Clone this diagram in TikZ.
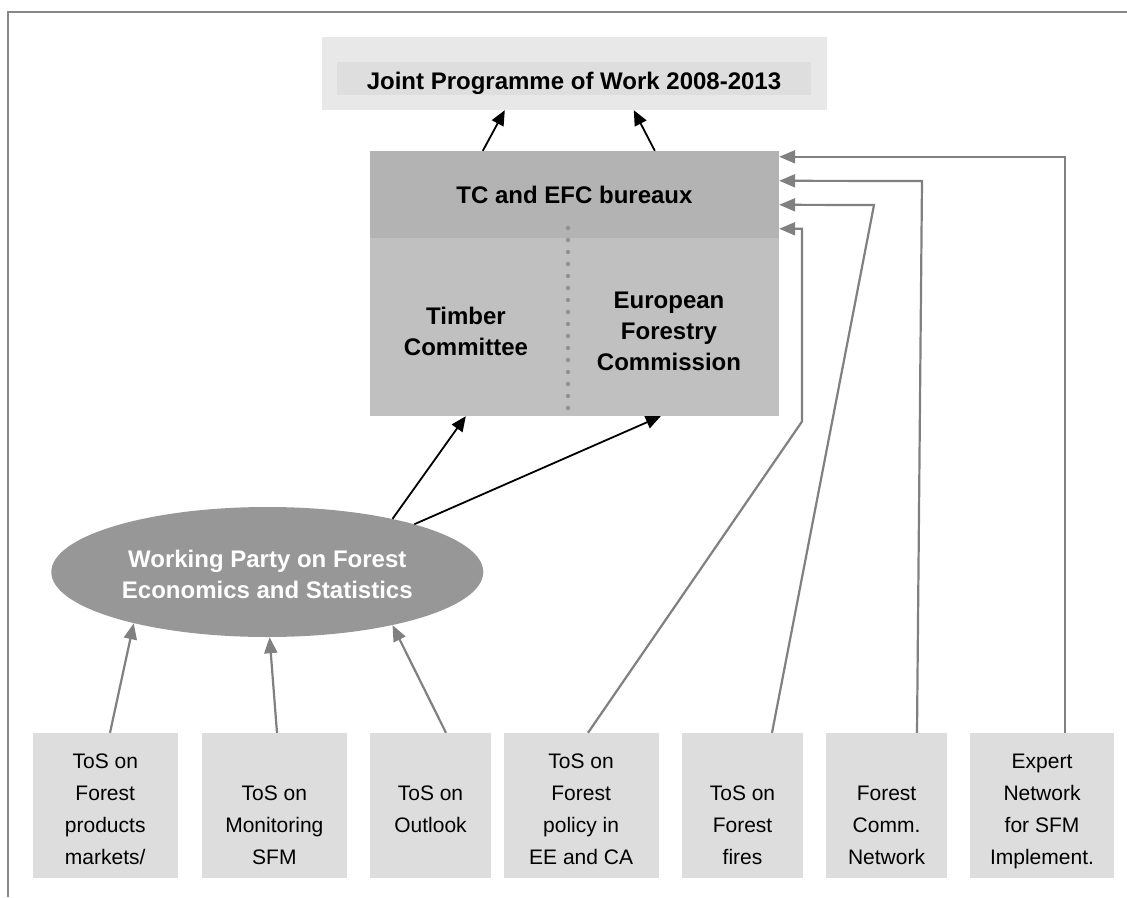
\documentclass[tikz,border=0pt]{standalone}
\usepackage{fontspec}
\setmainfont{Liberation Sans}
\usetikzlibrary{arrows.meta,shapes.geometric}
\definecolor{jpwout}{RGB}{232,232,232}
\definecolor{jpwin}{RGB}{222,222,222}
\definecolor{tchd}{RGB}{179,179,179}
\definecolor{tcbd}{RGB}{192,192,192}
\definecolor{wpfill}{RGB}{151,151,151}
\definecolor{tosfill}{RGB}{221,221,221}
\definecolor{garr}{RGB}{128,128,128}
\definecolor{framec}{RGB}{136,136,136}
\definecolor{dotc}{RGB}{145,145,145}
\newcommand\tsx{\rule[-3pt]{0pt}{29pt}}
\newcommand\esx{\rule[-3pt]{0pt}{28pt}}
\begin{document}
\begin{tikzpicture}[x=1pt,y=-1pt,
  plainbox/.style={rectangle, inner sep=0pt, draw=none},
  bigfont/.style={font=\fontsize{24}{31}\selectfont\bfseries},
  bigtext/.style={bigfont, align=center, inner sep=0pt},
  tos/.style={rectangle, fill=tosfill, inner sep=0pt, minimum height=144.7pt,
    align=center, font=\fontsize{21}{32}\selectfont},
  barrow/.style={-{Triangle[length=15pt,width=13pt]}, line width=1.8pt, black},
  garrow/.style={-{Triangle[length=16pt,width=13pt]}, line width=2.2pt, garr},
]
\useasboundingbox (0,0) rectangle (1127,897);
\fill[white] (0,0) rectangle (1127,897);
% frame
\draw[framec, line width=2pt] (8,897) -- (8,12) -- (1127,12);

% Joint programme
\node[plainbox, fill=jpwout, minimum width=505pt, minimum height=73pt] (jpw) at (574.5,73.5) {};
\node[plainbox, fill=jpwin, minimum width=474pt, minimum height=33pt, bigfont,
  text height=21pt, text depth=0pt] (jpwband) at (574,78.5) {Joint Programme of Work 2008-2013};

% TC box
\node[plainbox, fill=tchd, minimum width=409pt, minimum height=87pt, bigfont,
  text height=17.6pt, text depth=0pt] (tchead) at (574.5,194.5) {TC and EFC bureaux};
\node[plainbox, fill=tcbd, minimum width=409pt, minimum height=178pt] (tcbody) at (574.5,327) {};
\node[bigtext] (tc) at (466,331) {Timber\\Committee};
\node[bigtext] (efc) at (669,331) {European\\Forestry\\Commission};
\draw[dotc, line width=4.5pt, line cap=round, dash pattern=on 0pt off 12pt] (568,228) -- (568,410);

% Working party
\node[ellipse, fill=wpfill, minimum width=432pt, minimum height=130pt, inner sep=0pt,
  text=white, font=\fontsize{24}{31}\selectfont\bfseries, align=center]
  (wp) at (267.3,572) {\esx Working Party on Forest\\\esx Economics and Statistics};

% bottom boxes
\node[tos, minimum width=144.5pt] (b1) at (105.25,805.35) {\tsx ToS on\\\tsx Forest\\\tsx products\\\tsx markets/};
\node[tos, minimum width=145.3pt] (b2) at (274.35,805.35) {\tsx\\\tsx ToS on\\\tsx Monitoring\\\tsx SFM};
\node[tos, minimum width=121pt] (b3) at (430.5,805.35) {\tsx ToS on\\\tsx Outlook};
\node[tos, minimum width=155pt] (b4) at (581.15,805.35) {\tsx ToS on\\\tsx Forest\\\tsx policy in\\\tsx EE and CA};
\node[tos, minimum width=121pt] (b5) at (742.5,805.35) {\tsx\\\tsx ToS on\\\tsx Forest\\\tsx fires};
\node[tos, minimum width=121pt] (b6) at (886.5,805.35) {\tsx\\\tsx Forest\\\tsx Comm.\\\tsx Network};
\node[tos, minimum width=144pt] (b7) at (1042,805.35) {\tsx Expert\\\tsx Network\\\tsx for SFM\\\tsx Implement.};

% black arrows
\draw[barrow] ([xshift=113pt]tchead.north west) -- ([xshift=183pt]jpw.south west);
\draw[barrow] ([xshift=285pt]tchead.north west) -- ([xshift=312pt]jpw.south west);
\draw[barrow] (wp.23) -- ([xshift=96pt]tcbody.south west);
\draw[barrow] (wp.18) -- ([xshift=291pt]tcbody.south west);

% gray arrows to working party
\draw[garrow] ([xshift=4.75pt]b1.north) -- (wp.201);
\draw[garrow] ([xshift=2.65pt]b2.north) -- (wp.272);
\draw[garrow] ([xshift=15.5pt]b3.north) -- (wp.337);

% gray arrows to bureaux
\draw[garrow] ([xshift=6.85pt]b4.north) -- (802,421.5) |- ([yshift=-78pt]tchead.north east);
\draw[garrow] ([xshift=29.5pt]b5.north) -- (874,205) -- ([yshift=-54pt]tchead.north east);
\draw[garrow] ([xshift=30.5pt]b6.north) -- (922,181) -- ([yshift=-30pt]tchead.north east);
\draw[garrow] ([xshift=23pt]b7.north) |- ([yshift=-6pt]tchead.north east);
\end{tikzpicture}
\end{document}
